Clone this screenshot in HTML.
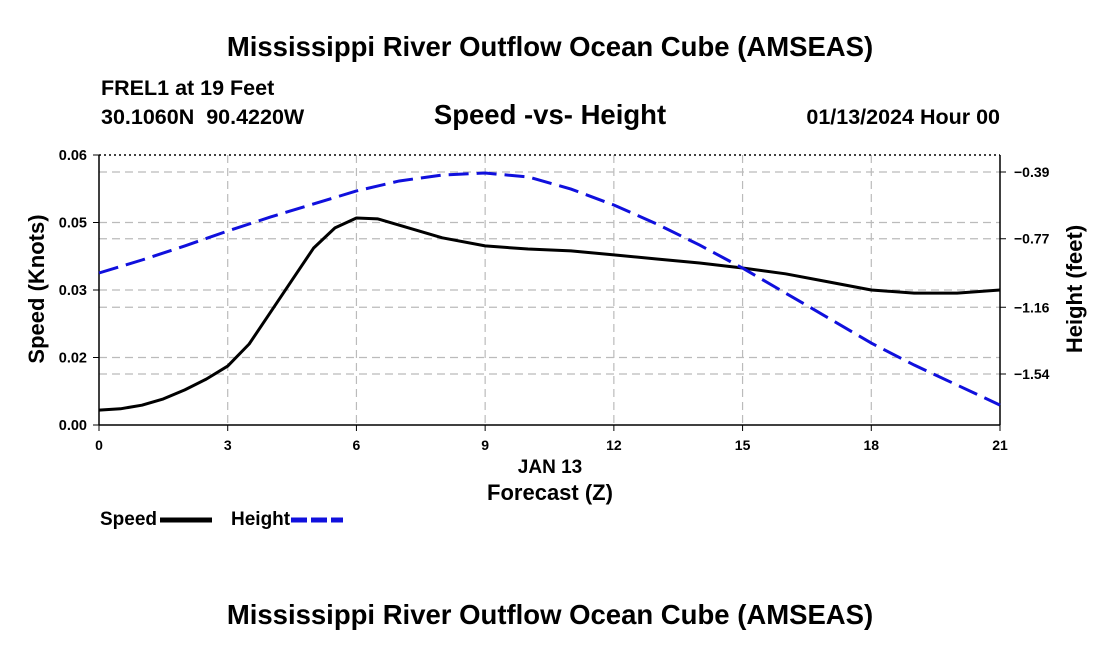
<!DOCTYPE html>
<html><head><meta charset="utf-8"><style>
body{margin:0;background:#fff;width:1100px;height:650px;overflow:hidden;font-family:"Liberation Sans",Arial,sans-serif}
</style></head><body>
<svg width="1100" height="650" xmlns="http://www.w3.org/2000/svg" font-family="Liberation Sans, Arial, sans-serif">
<text x="550" y="56" text-anchor="middle" font-size="27.5" font-weight="bold">Mississippi River Outflow Ocean Cube (AMSEAS)</text>
<text x="101" y="95" font-size="21.5" font-weight="bold">FREL1 at 19 Feet</text>
<text x="101" y="124" font-size="21.5" font-weight="bold" xml:space="preserve">30.1060N  90.4220W</text>
<text x="550" y="124" text-anchor="middle" font-size="27.5" font-weight="bold">Speed -vs- Height</text>
<text x="1000" y="124" text-anchor="end" font-size="21.5" font-weight="bold">01/13/2024 Hour 00</text>
<g id="grid"></g>
<g id="axes"></g>
<g id="series"></g>
<text x="550" y="473" text-anchor="middle" font-size="19" font-weight="bold">JAN 13</text>
<text x="550" y="500" text-anchor="middle" font-size="22" font-weight="bold">Forecast (Z)</text>
<text x="44" y="289" text-anchor="middle" font-size="22" font-weight="bold" transform="rotate(-90 44 289)">Speed (Knots)</text>
<text x="1082" y="289" text-anchor="middle" font-size="22" font-weight="bold" transform="rotate(-90 1082 289)">Height (feet)</text>
<g><text x="100" y="525" font-size="19" font-weight="bold">Speed</text><line x1="160" y1="520" x2="212" y2="520" stroke="#000" stroke-width="5"/></g>
<g><text x="231" y="525" font-size="19" font-weight="bold">Height</text><line x1="291" y1="520" x2="343" y2="520" stroke="#1010dd" stroke-width="5" stroke-dasharray="16 4"/></g>
<text x="550" y="624" text-anchor="middle" font-size="27.5" font-weight="bold">Mississippi River Outflow Ocean Cube (AMSEAS)</text>
</svg>
<script>
const hours=[0,0.5,1,1.5,2,2.5,3,3.5,4,4.5,5,5.5,6,6.5,7,8,9,10,11,12,13,14,15,16,17,18,19,20,21];
const speed=[0.0033,0.0036,0.0044,0.0058,0.0078,0.0102,0.0131,0.018,0.0251,0.0322,0.0393,0.0438,0.046,0.0458,0.0444,0.0416,0.0398,0.0391,0.0387,0.0378,0.0369,0.036,0.0349,0.0336,0.0318,0.03,0.0293,0.0293,0.03];
const heightHours=[0,1,2,3,4,5,6,7,8,9,10,11,12,13,14,15,16,17,18,19,20,21];
const height=[-0.965,-0.891,-0.811,-0.726,-0.646,-0.572,-0.498,-0.441,-0.407,-0.396,-0.418,-0.487,-0.578,-0.686,-0.806,-0.937,-1.079,-1.221,-1.364,-1.489,-1.603,-1.717];
const xTicks=[0,3,6,9,12,15,18,21];
const leftTicks=[0.06,0.045,0.03,0.015,0];
const leftLabels=["0.06","0.05","0.03","0.02","0.00"];
const rightTicks=[-0.39,-0.77,-1.16,-1.54];
const rightLabels=["\u22120.39","\u22120.77","\u22121.16","\u22121.54"];
const X0=99,X1=1000,Y0=155,Y1=425;
const xs=h=>X0+h/21*(X1-X0);
const yl=v=>Y1-v/0.06*(Y1-Y0);
const yr=v=>172+(-0.39-v)/1.15*202;
const NS="http://www.w3.org/2000/svg";
function mk(p,t,a){const e=document.createElementNS(NS,t);for(const k in a)e.setAttribute(k,a[k]);p.appendChild(e);return e;}
const grid=document.getElementById('grid'),axes=document.getElementById('axes'),series=document.getElementById('series');
const gs={stroke:"#bbb","stroke-width":1.2,"stroke-dasharray":"8 5"};
xTicks.slice(1,-1).forEach(h=>{const l=mk(grid,'line',Object.assign({x1:xs(h),x2:xs(h),y1:Y0,y2:Y1},gs));

});
leftTicks.slice(1,-1).forEach(v=>{const l=mk(grid,'line',Object.assign({x1:X0,x2:X1,y1:yl(v),y2:yl(v)},gs));

});
rightTicks.forEach(v=>{const l=mk(grid,'line',Object.assign({x1:X0,x2:X1,y1:yr(v),y2:yr(v)},gs));

});
mk(axes,'line',{x1:X0,x2:X1,y1:Y0,y2:Y0,stroke:"#000","stroke-width":1.5,"stroke-dasharray":"2 3"});
mk(axes,'line',{x1:X0,x2:X1,y1:Y1,y2:Y1,stroke:"#000","stroke-width":1.5});
mk(axes,'line',{x1:X0,x2:X0,y1:Y0,y2:Y1,stroke:"#000","stroke-width":1.5});
mk(axes,'line',{x1:X1,x2:X1,y1:Y0,y2:Y1,stroke:"#000","stroke-width":1.5});
xTicks.forEach(h=>{mk(axes,'line',{x1:xs(h),x2:xs(h),y1:Y1,y2:Y1+6,stroke:"#000"});
const t=mk(axes,'text',{x:xs(h),y:Y1+25,"text-anchor":"middle","font-size":14,"font-weight":"bold"});t.textContent=h;

});
leftTicks.forEach((v,i)=>{mk(axes,'line',{x1:X0-6,x2:X0,y1:yl(v),y2:yl(v),stroke:"#000"});
const t=mk(axes,'text',{x:X0-12,y:yl(v)+5,"text-anchor":"end","font-size":14.5,"font-weight":"bold"});t.textContent=leftLabels[i];

});
rightTicks.forEach((v,i)=>{mk(axes,'line',{x1:X1,x2:X1+6,y1:yr(v),y2:yr(v),stroke:"#000"});
const t=mk(axes,'text',{x:X1+14,y:yr(v)+5,"font-size":14,"font-weight":"bold"});t.textContent=rightLabels[i];

});
const sp=mk(series,'polyline',{points:hours.map((h,i)=>xs(h)+","+yl(speed[i])).join(" "),fill:"none",stroke:"#000","stroke-width":3,"stroke-linejoin":"round"});


const hp=mk(series,'polyline',{points:heightHours.map((h,i)=>xs(h)+","+yr(height[i])).join(" "),fill:"none",stroke:"#1010dd","stroke-width":3,"stroke-dasharray":"20 8"});


</script>
</body></html>
